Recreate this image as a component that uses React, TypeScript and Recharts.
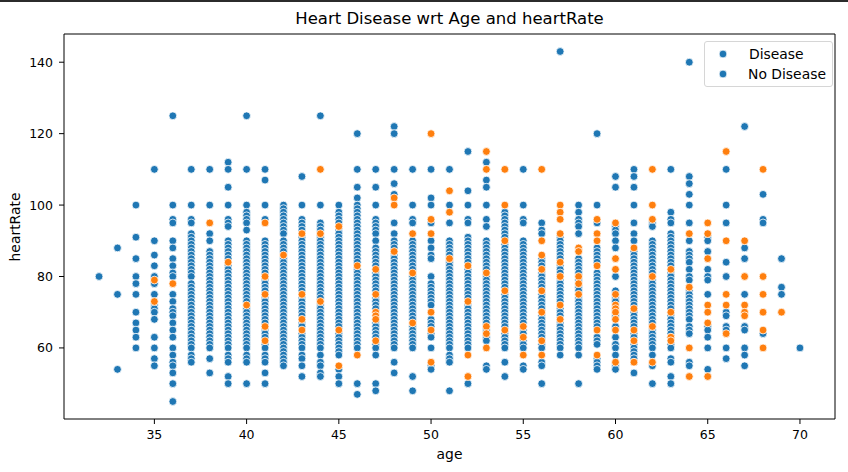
import { ScatterChart, Scatter, XAxis, YAxis, ReferenceLine } from "recharts";

// heartRate values read per age column (blue = majority hue, orange = other hue)
const ages = [32, 33, 34, 35, 36, 37, 38, 39, 40, 41, 42, 43, 44, 45, 46, 47, 48, 49, 50, 51, 52, 53, 54, 55, 56, 57, 58, 59, 60, 61, 62, 63, 64, 65, 66, 67, 68, 69, 70];

const blueRates: number[][] = [
    [80],
    [88, 75, 54],
    [100, 91, 85, 80, 78, 75, 70, 67, 65, 63, 60],
    [110, 90, 86, 83, 80, 78, 75, 72, 71, 70, 68, 63, 60, 57, 55],
    [125, 100, 96, 95, 90, 88, 85, 83, 81, 80, 75, 73, 71, 70, 69, 67, 65, 63, 60, 58, 56, 55, 53, 50, 45],
    [110, 100, 96, 95, 92, 91, 90, 89, 88, 87, 86, 85, 84, 83, 82, 81, 80, 78, 77, 76, 75, 74, 73, 72, 71, 70, 69, 68, 67, 66, 65, 64, 63, 62, 61, 60, 58, 57, 56],
    [110, 100, 92, 90, 87, 86, 85, 84, 83, 82, 81, 80, 79, 78, 77, 76, 75, 74, 73, 72, 71, 70, 69, 68, 67, 66, 65, 64, 63, 62, 61, 60, 57, 53],
    [112, 110, 105, 100, 96, 95, 94, 90, 89, 88, 87, 86, 85, 83, 82, 81, 80, 79, 78, 77, 76, 75, 74, 73, 72, 71, 70, 69, 68, 67, 66, 65, 64, 63, 62, 61, 60, 58, 57, 56, 52, 50],
    [125, 110, 100, 98, 97, 96, 95, 93, 90, 89, 88, 87, 86, 85, 84, 83, 82, 81, 80, 79, 78, 77, 76, 75, 74, 73, 71, 70, 69, 68, 67, 66, 65, 64, 63, 62, 61, 60, 58, 57, 56, 50],
    [110, 107, 100, 96, 90, 89, 88, 87, 86, 85, 84, 83, 82, 81, 79, 78, 77, 76, 74, 73, 72, 71, 70, 69, 68, 67, 65, 64, 63, 61, 60, 58, 57, 56, 53, 50],
    [100, 99, 98, 97, 96, 95, 94, 93, 92, 90, 89, 88, 87, 85, 84, 83, 82, 81, 80, 79, 78, 77, 76, 75, 74, 73, 72, 71, 70, 69, 68, 67, 66, 65, 64, 63, 62, 61, 60, 59, 58, 57, 56, 55],
    [108, 100, 96, 95, 94, 93, 91, 90, 89, 88, 87, 86, 85, 84, 83, 82, 81, 80, 79, 78, 77, 76, 74, 73, 72, 71, 70, 69, 67, 66, 64, 63, 62, 61, 60, 58, 57, 55, 52],
    [125, 100, 95, 94, 93, 91, 90, 89, 88, 87, 86, 85, 84, 83, 82, 81, 80, 79, 78, 77, 76, 75, 74, 72, 71, 70, 69, 68, 67, 66, 65, 64, 63, 62, 61, 60, 58, 56, 55, 53, 52],
    [100, 98, 97, 96, 95, 93, 92, 91, 90, 89, 88, 87, 86, 85, 84, 83, 82, 81, 80, 79, 78, 77, 76, 75, 74, 73, 72, 71, 70, 69, 68, 67, 66, 64, 63, 62, 61, 60, 59, 58, 54, 52, 50],
    [120, 110, 105, 102, 100, 99, 98, 97, 96, 95, 94, 93, 92, 91, 90, 89, 88, 87, 86, 85, 84, 82, 81, 80, 79, 78, 77, 76, 75, 74, 73, 72, 71, 70, 69, 68, 67, 66, 65, 64, 63, 62, 61, 60, 50, 47],
    [110, 105, 100, 96, 95, 94, 93, 92, 90, 88, 87, 86, 85, 84, 83, 81, 80, 79, 78, 77, 76, 74, 73, 72, 71, 67, 66, 65, 64, 63, 61, 60, 58, 50, 48],
    [122, 120, 110, 106, 103, 95, 92, 90, 89, 88, 86, 85, 84, 83, 82, 81, 80, 79, 78, 77, 76, 75, 74, 73, 72, 71, 70, 69, 68, 67, 66, 65, 64, 63, 62, 61, 60, 56, 53],
    [110, 100, 96, 95, 90, 89, 88, 87, 86, 85, 84, 83, 82, 80, 79, 78, 77, 76, 75, 74, 73, 72, 71, 70, 69, 68, 66, 65, 64, 63, 62, 61, 60, 52, 48],
    [110, 102, 100, 95, 90, 88, 86, 85, 80, 78, 77, 76, 75, 74, 73, 72, 68, 67, 66, 64, 63, 60, 55, 54],
    [110, 100, 95, 90, 89, 88, 87, 86, 84, 83, 82, 81, 80, 79, 78, 77, 76, 75, 74, 73, 72, 71, 70, 69, 68, 67, 66, 65, 64, 63, 62, 61, 60, 58, 57, 56, 48],
    [115, 104, 100, 96, 95, 91, 90, 89, 88, 87, 86, 85, 84, 82, 81, 80, 79, 78, 77, 76, 75, 74, 72, 71, 70, 69, 68, 67, 66, 65, 64, 63, 62, 61, 60, 50],
    [112, 107, 105, 100, 96, 94, 90, 89, 88, 87, 86, 85, 84, 83, 82, 80, 79, 78, 77, 76, 75, 74, 73, 72, 71, 70, 69, 68, 67, 65, 63, 62, 55, 54],
    [98, 97, 96, 95, 94, 93, 92, 91, 89, 88, 87, 86, 85, 84, 83, 82, 81, 80, 79, 78, 77, 75, 74, 73, 72, 71, 70, 69, 68, 67, 66, 64, 63, 62, 61, 60, 56, 52],
    [110, 100, 96, 95, 90, 89, 88, 87, 86, 85, 84, 83, 82, 81, 80, 79, 78, 77, 76, 75, 74, 73, 72, 71, 70, 69, 68, 67, 65, 64, 62, 61, 60, 55, 54],
    [95, 93, 92, 85, 84, 83, 81, 80, 79, 78, 77, 75, 74, 73, 72, 71, 69, 68, 67, 66, 65, 64, 63, 61, 60, 56, 55, 50],
    [143, 91, 90, 89, 88, 87, 86, 85, 83, 82, 81, 79, 78, 77, 76, 75, 74, 73, 71, 70, 69, 67, 66, 65, 64, 63, 62, 61, 60, 58],
    [100, 98, 96, 95, 94, 92, 85, 84, 83, 82, 81, 79, 77, 76, 74, 73, 72, 71, 70, 69, 68, 67, 66, 65, 64, 63, 62, 61, 60, 58, 50],
    [120, 100, 95, 88, 87, 86, 85, 84, 81, 80, 79, 78, 77, 76, 75, 74, 73, 72, 71, 70, 69, 68, 67, 66, 63, 62, 61, 57, 56, 55, 54],
    [108, 105, 94, 93, 92, 90, 88, 80, 76, 74, 73, 69, 66, 63, 61, 60, 58, 55, 54],
    [110, 108, 105, 100, 95, 92, 90, 87, 86, 85, 84, 83, 82, 81, 80, 79, 78, 77, 76, 75, 74, 73, 72, 70, 69, 68, 67, 66, 64, 63, 61, 60, 59, 58, 57, 56, 53],
    [95, 94, 90, 89, 88, 87, 86, 85, 84, 83, 82, 81, 79, 78, 77, 76, 75, 74, 73, 72, 71, 70, 69, 68, 67, 65, 64, 63, 62, 61, 60, 58, 55, 50],
    [110, 98, 96, 95, 92, 91, 90, 89, 88, 87, 86, 85, 84, 83, 81, 80, 79, 78, 77, 76, 75, 74, 73, 72, 71, 69, 68, 67, 66, 65, 64, 63, 61, 60, 57, 56, 52, 50],
    [140, 108, 106, 103, 100, 95, 90, 87, 86, 85, 84, 82, 80, 79, 76, 75, 74, 73, 72, 71, 70, 69, 68, 66, 65, 64, 56, 55],
    [91, 90, 87, 82, 80, 79, 75, 66, 65, 63, 60, 54],
    [110, 100, 95, 84, 80, 70, 69, 66, 65, 60, 57],
    [122, 88, 85, 75, 66, 65, 60, 58, 55],
    [103, 96, 95, 64],
    [85, 77, 75],
    [60],
];

const orangeRates: number[][] = [
    [], [], [],
    [79, 73],
    [78],
    [],
    [95],
    [84],
    [72],
    [95, 80, 75, 66, 62],
    [86],
    [92, 75, 68, 65],
    [110, 92, 73],
    [94, 65, 55],
    [83, 58],
    [82, 75, 70, 69, 68, 62],
    [102, 100, 87],
    [92, 81, 67],
    [120, 96, 92, 70, 65, 56],
    [104, 98, 85],
    [83, 73, 58, 52],
    [115, 110, 81, 66, 64, 60],
    [110, 100, 90, 76, 65],
    [66, 63, 58],
    [110, 90, 86, 82, 76, 70, 62, 58],
    [100, 98, 96, 92, 84, 80, 72, 68],
    [88, 87, 80, 78, 75],
    [96, 92, 90, 83, 65, 58],
    [95, 85, 82, 75, 72, 71, 70, 68, 65, 56],
    [88, 71, 65, 62, 56],
    [110, 100, 96, 80, 66, 56],
    [82, 70, 63, 62],
    [92, 77, 60, 52],
    [95, 92, 85, 72, 70, 67, 52],
    [115, 90, 75, 72, 64],
    [90, 80, 72, 70, 69],
    [110, 80, 75, 70, 65, 60],
    [70],
    [],
];

const xTicks = [35, 40, 45, 50, 55, 60, 65, 70];
const yTicks = [60, 80, 100, 120, 140];
const legendLabels = ["Disease", "No Disease"];

const BLUE = "#1f77b4";
const ORANGE = "#ff7f0e";
const FONT = "'DejaVu Sans', sans-serif";

const toPoints = (rows: number[][]) =>
    ages.flatMap((age, i) => rows[i].map((rate) => ({ age, heartRate: rate })));

const bluePoints = toPoints(blueRates);
const orangePoints = toPoints(orangeRates);

const dot = (color: string) => (props: any) => (
    <circle cx={props.cx} cy={props.cy} r={3.9} fill={color} stroke="#ffffff" strokeWidth={0.8} />
);

const tickStyle = { fill: "#000", fontSize: 12.5, fontFamily: FONT };

export default function App() {
    return (
        <div style={{ position: "absolute", left: 0, top: 0, width: 848, height: 472, background: "#fff", fontFamily: FONT }}>
            <div style={{ position: "absolute", left: 0, top: 0, width: 848, height: 2, background: "#2b2b2b" }} />
            <div style={{ position: "absolute", left: 64, width: 771, top: 9, textAlign: "center", fontSize: 16.5, color: "#000" }}>
                Heart Disease wrt Age and heartRate
            </div>
            <ScatterChart width={848} height={472} margin={{ top: 34, right: 13, bottom: 23, left: 14 }}>
                <XAxis
                    type="number"
                    dataKey="age"
                    domain={[30.1, 71.9]}
                    ticks={xTicks}
                    allowDataOverflow
                    height={30}
                    tickSize={5}
                    tickMargin={6}
                    tick={tickStyle}
                    stroke="#000"
                />
                <YAxis
                    type="number"
                    dataKey="heartRate"
                    domain={[40.1, 147.9]}
                    ticks={yTicks}
                    allowDataOverflow
                    width={50}
                    tickSize={5}
                    tickMargin={6}
                    tick={tickStyle}
                    stroke="#000"
                />
                <ReferenceLine x={71.9} stroke="#000" strokeWidth={1} />
                <ReferenceLine y={147.9} stroke="#000" strokeWidth={1} />
                <Scatter data={bluePoints} fill={BLUE} shape={dot(BLUE)} isAnimationActive={false} />
                <Scatter data={orangePoints} fill={ORANGE} shape={dot(ORANGE)} isAnimationActive={false} />
            </ScatterChart>
            <div style={{ position: "absolute", left: 64, width: 771, top: 446, textAlign: "center", fontSize: 13.9, color: "#000" }}>
                age
            </div>
            <div
                style={{
                    position: "absolute",
                    left: 15,
                    top: 227,
                    transform: "translate(-50%, -50%) rotate(-90deg)",
                    fontSize: 13.9,
                    color: "#000",
                    whiteSpace: "nowrap",
                }}
            >
                heartRate
            </div>
            <div
                style={{
                    position: "absolute",
                    left: 704,
                    top: 41,
                    width: 127,
                    height: 44,
                    border: "1px solid #d6d6d6",
                    borderRadius: 3,
                    background: "rgba(255,255,255,0.8)",
                    fontSize: 13.9,
                    color: "#000",
                }}
            >
                {legendLabels.map((label, i) => (
                    <div key={label} style={{ position: "absolute", left: 0, top: 4 + i * 20, height: 16, width: 127 }}>
                        <svg width={30} height={16} style={{ position: "absolute", left: 8, top: 0 }}>
                            <circle cx={10} cy={8} r={3.9} fill={BLUE} stroke="#fff" strokeWidth={0.8} />
                        </svg>
                        <span style={{ position: "absolute", left: i === 0 ? 44 : 43, top: 0, lineHeight: "16px" }}>{label}</span>
                    </div>
                ))}
            </div>
        </div>
    );
}
